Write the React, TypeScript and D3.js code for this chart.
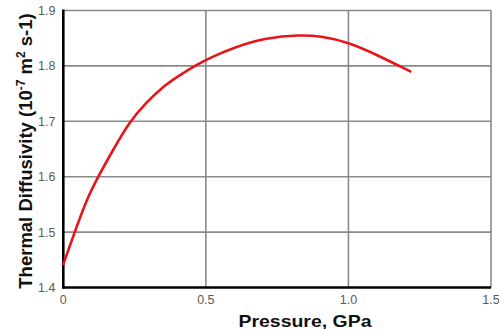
import React, { useRef, useEffect } from "react";
import * as d3 from "d3";

// pressure (GPa) vs thermal diffusivity (10^-7 m2 s-1)
const pressure = [0, 0.04, 0.081, 0.122, 0.174, 0.233, 0.291, 0.35, 0.408, 0.467, 0.525, 0.596, 0.713, 0.83, 0.9, 1.0, 1.1, 1.217];
const diffusivity = [1.442, 1.5, 1.558, 1.6, 1.648, 1.7, 1.734, 1.763, 1.783, 1.802, 1.817, 1.833, 1.851, 1.856, 1.854, 1.843, 1.82, 1.79];
const xTicks = [0, 0.5, 1.0, 1.5];
const xTickLabels = ["0", "0.5", "1.0", "1.5"];
const yTicks = [1.4, 1.5, 1.6, 1.7, 1.8, 1.9];

export default function App() {
  const ref = useRef<SVGSVGElement>(null);

  useEffect(() => {
    const width = 499;
    const height = 329;
    const margin = { top: 10.5, right: 8, bottom: 41.5, left: 63.3 };
    const svg = d3.select(ref.current).attr("width", width).attr("height", height);
    svg.selectAll("*").remove();

    const x = d3.scaleLinear().domain([0, 1.5]).range([margin.left, width - margin.right]);
    const y = d3.scaleLinear().domain([1.4, 1.9]).range([height - margin.bottom, margin.top]);

    const grid = svg.append("g").attr("stroke", "#8a8a8a").attr("stroke-width", 1.6);
    grid
      .selectAll("line.v")
      .data(xTicks.slice(1))
      .join("line")
      .attr("x1", (d) => x(d))
      .attr("x2", (d) => x(d))
      .attr("y1", y(1.9))
      .attr("y2", y(1.4));
    grid
      .selectAll("line.h")
      .data(yTicks.slice(1))
      .join("line")
      .attr("class", "h")
      .attr("x1", x(0))
      .attr("x2", x(1.5))
      .attr("y1", (d) => y(d))
      .attr("y2", (d) => y(d));

    // axes lines
    svg
      .append("line")
      .attr("x1", x(0))
      .attr("x2", x(0))
      .attr("y1", y(1.9) - 1)
      .attr("y2", y(1.4) + 1)
      .attr("stroke", "#000")
      .attr("stroke-width", 2.6);
    svg
      .append("line")
      .attr("x1", x(0) - 1)
      .attr("x2", x(1.5))
      .attr("y1", y(1.4))
      .attr("y2", y(1.4))
      .attr("stroke", "#000")
      .attr("stroke-width", 2.6);

    const line = d3
      .line<number>()
      .x((_, i) => x(pressure[i]))
      .y((d) => y(d))
      .curve(d3.curveBasis);
    svg
      .append("path")
      .datum(diffusivity)
      .attr("d", line)
      .attr("fill", "none")
      .attr("stroke", "#e8141a")
      .attr("stroke-width", 2.6)
      .attr("stroke-linecap", "round");

    const tickFont = "Arial, 'Liberation Sans', sans-serif";
    svg
      .append("g")
      .selectAll("text")
      .data(yTicks)
      .join("text")
      .attr("x", 55.5)
      .attr("y", (d) => y(d))
      .attr("dy", "0.36em")
      .attr("text-anchor", "end")
      .attr("font-family", tickFont)
      .attr("font-size", 12.5)
      .attr("fill", "#5a5a5a")
      .text((d) => d.toFixed(1));

    svg
      .append("g")
      .selectAll("text")
      .data(xTicks)
      .join("text")
      .attr("x", (d) => x(d))
      .attr("y", 304)
      .attr("text-anchor", "middle")
      .attr("font-family", tickFont)
      .attr("font-size", 12.5)
      .attr("fill", "#5a5a5a")
      .text((_, i) => xTickLabels[i]);

    svg
      .append("text")
      .attr("x", 305)
      .attr("y", 326.5)
      .attr("text-anchor", "middle")
      .attr("font-family", tickFont)
      .attr("font-weight", "bold")
      .attr("font-size", 17)
      .attr("textLength", 133)
      .attr("lengthAdjust", "spacingAndGlyphs")
      .attr("fill", "#111")
      .text("Pressure, GPa");

    const yTitle = svg
      .append("text")
      .attr("transform", "translate(32,151) rotate(-90)")
      .attr("text-anchor", "middle")
      .attr("font-family", tickFont)
      .attr("font-weight", "bold")
      .attr("font-size", 18.5)
      .attr("fill", "#111");
    yTitle.append("tspan").text("Thermal Diffusivity (10");
    yTitle.append("tspan").attr("dy", -7).attr("font-size", 12).text("-7");
    yTitle.append("tspan").attr("dy", 7).text(" m");
    yTitle.append("tspan").attr("dy", -7).attr("font-size", 12).text("2");
    yTitle.append("tspan").attr("dy", 7).text(" s-1)");
  }, []);

  return (
    <div style={{ position: "absolute", left: 0, top: 0, background: "#fff" }}>
      <svg ref={ref} style={{ display: "block" }} />
    </div>
  );
}
